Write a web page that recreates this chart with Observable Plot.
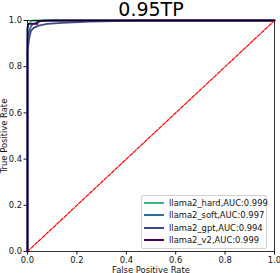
<!DOCTYPE html>
<html><head><meta charset="utf-8">
<script src="https://cdn.jsdelivr.net/npm/d3@7"></script>
<script src="https://cdn.jsdelivr.net/npm/@observablehq/plot@0.6"></script>
<style>
body{margin:0;background:#fff;font-family:"DejaVu Sans",sans-serif;}
#wrap{position:relative;width:280px;height:273px;}
#legend{position:absolute;left:141px;top:195px;width:126px;height:54px;border:1px solid #d0d0d0;border-radius:2px;background:rgba(255,255,255,0.85);box-sizing:border-box;font-size:8.4px;color:#111;}
.row{position:absolute;left:2px;height:12px;display:flex;align-items:center;}
.sw{width:20px;height:2px;margin-right:5px;}
</style>
</head><body>
<div id="wrap"></div>
<script>
const title = "0.95TP";
const seriesNames = ["llama2_hard","llama2_soft","llama2_gpt","llama2_v2"];
const aucs = ["0.999","0.997","0.994","0.999"];
const colors = ["#36b880","#2c718e","#3f4a8a","#440154"];
const fprHard = [0,0,0.004,0.012,0.02,1];
const tprHard = [0,0.96,0.985,0.993,1,1];
const fprSoft = [0,0,0.006,0.012,0.02,0.035,0.06,1];
const tprSoft = [0,0.92,0.95,0.97,0.985,0.99,1,1];
const fprGpt = [0,0,0.004,0.008,0.014,0.025,0.045,0.08,0.14,0.25,0.45,1];
const tprGpt = [0,0.87,0.9,0.93,0.955,0.968,0.978,0.985,0.99,0.995,1,1];
const fprV2 = [0,0,0.004,0.012,0.04,0.04,0.06,0.1,1];
const tprV2 = [0,0.97,0.985,0.985,0.985,0.995,0.998,1,1];
const ticks = [0,0.2,0.4,0.6,0.8,1.0];
const diag = [0,1];

const curves = [[fprHard,tprHard],[fprSoft,tprSoft],[fprGpt,tprGpt],[fprV2,tprV2]];
const rows = [];
curves.forEach(([f,t],i)=>f.forEach((x,j)=>rows.push({s:seriesNames[i],x,y:t[j],i})));
const diagRows = diag.map(v=>({x:v,y:v}));

const chart = Plot.plot({
  width:280, height:273,
  marginLeft:27, marginRight:6, marginTop:20, marginBottom:22,
  style:{fontFamily:"DejaVu Sans", fontSize:"8.4px", color:"#111", background:"#fff"},
  x:{domain:[0,1]}, y:{domain:[0,1]},
  marks:[
    Plot.axisX({ticks, tickFormat:d3.format(".1f"), tickSize:3.5, tickPadding:2, label:"False Positive Rate", labelAnchor:"center", labelArrow:"none", labelOffset:21}),
    Plot.axisY({ticks, tickFormat:d3.format(".1f"), tickSize:3.5, tickPadding:2, label:"True Positive Rate", labelAnchor:"center", labelArrow:"none", labelOffset:26}),
    ...seriesNames.map((s,i)=>Plot.line(rows.filter(r=>r.s===s),{x:"x",y:"y",stroke:colors[i],strokeWidth:1.8})),
    Plot.line(diagRows,{x:"x",y:"y",stroke:"#ff0000",strokeWidth:1.2,strokeDasharray:"3.5,1.5"}),
    Plot.frame({stroke:"#000",strokeWidth:0.8}),
    Plot.text([title],{frameAnchor:"top",lineAnchor:"top",dy:-18,fontSize:19,fill:"#000"})
  ]
});
const wrap = document.getElementById("wrap");
wrap.appendChild(chart);
const lg = document.createElement("div");
lg.id="legend";
seriesNames.forEach((s,i)=>{
  const r=document.createElement("div");
  r.className="row"; r.style.top=(1+i*12.4)+"px";
  r.innerHTML=`<span class="sw" style="background:${colors[i]}"></span><span>${s},AUC:${aucs[i]}</span>`;
  lg.appendChild(r);
});
wrap.appendChild(lg);
</script>
</body></html>
